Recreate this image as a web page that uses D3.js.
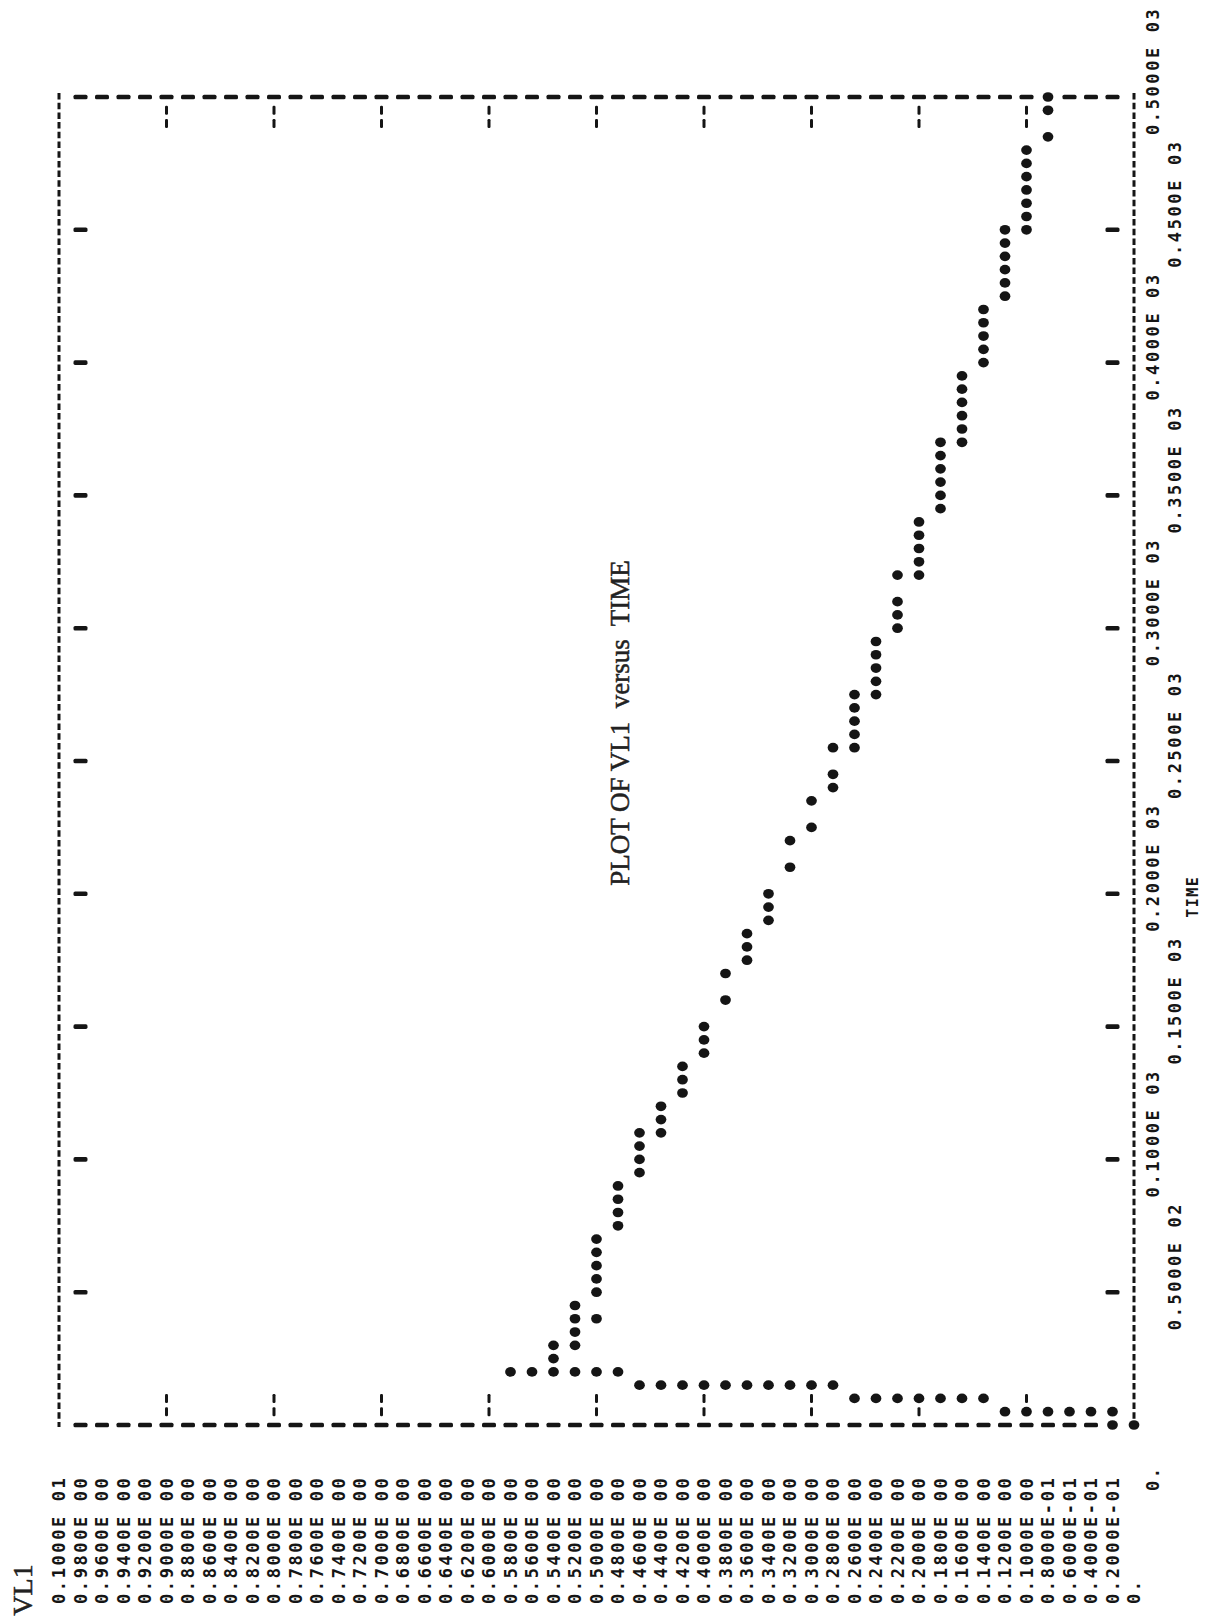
<!DOCTYPE html>
<html><head><meta charset="utf-8">
<script src="https://cdn.jsdelivr.net/npm/d3@7/dist/d3.min.js"></script>
<style>html,body{margin:0;padding:0;background:#fff;}svg{display:block}</style>
</head><body>
<svg id="chart" width="1229" height="1617"></svg>
<script>
// ---------- data ----------
const titleText = "PLOT OF VL1  versus  TIME";
const vl1AxisName = "VL1";
const timeAxisName = "TIME";

const vl1TickValues = [1.00,0.98,0.96,0.94,0.92,0.90,0.88,0.86,0.84,0.82,0.80,0.78,0.76,0.74,0.72,0.70,0.68,0.66,0.64,0.62,0.60,0.58,0.56,0.54,0.52,0.50,0.48,0.46,0.44,0.42,0.40,0.38,0.36,0.34,0.32,0.30,0.28,0.26,0.24,0.22,0.20,0.18,0.16,0.14,0.12,0.10,0.08,0.06,0.04,0.02,0];
const vl1TickLabels = ["0.1000E 01","0.9800E 00","0.9600E 00","0.9400E 00","0.9200E 00","0.9000E 00","0.8800E 00","0.8600E 00","0.8400E 00","0.8200E 00","0.8000E 00","0.7800E 00","0.7600E 00","0.7400E 00","0.7200E 00","0.7000E 00","0.6800E 00","0.6600E 00","0.6400E 00","0.6200E 00","0.6000E 00","0.5800E 00","0.5600E 00","0.5400E 00","0.5200E 00","0.5000E 00","0.4800E 00","0.4600E 00","0.4400E 00","0.4200E 00","0.4000E 00","0.3800E 00","0.3600E 00","0.3400E 00","0.3200E 00","0.3000E 00","0.2800E 00","0.2600E 00","0.2400E 00","0.2200E 00","0.2000E 00","0.1800E 00","0.1600E 00","0.1400E 00","0.1200E 00","0.1000E 00","0.8000E-01","0.6000E-01","0.4000E-01","0.2000E-01","0."];
const vl1GridValues = [0.9,0.8,0.7,0.6,0.5,0.4,0.3,0.2,0.1];

const timeTickValues = [0,50,100,150,200,250,300,350,400,450,500];
const timeTickLabels = ["0.","0.5000E 02","0.1000E 03","0.1500E 03","0.2000E 03","0.2500E 03","0.3000E 03","0.3500E 03","0.4000E 03","0.4500E 03","0.5000E 03"];
const timeStep = 5; // one printer column

const timeValues = [
  0,0,
  5,5,5,5,5,5,
  10,10,10,10,10,10,10,
  15,15,15,15,15,15,15,15,15,15,
  20,20,20,20,20,20,
  25,
  30,30,
  35,
  40,40,
  45,
  50,55,60,65,70,
  75,80,85,90,
  95,100,105,110,
  110,115,120,
  125,130,135,
  140,145,150,
  160,170,
  175,180,185,
  190,195,200,
  210,220,
  225,235,
  240,245,255,
  255,260,265,270,275,
  275,280,285,290,295,
  300,305,310,320,
  320,325,330,335,340,
  345,350,355,360,365,370,
  370,375,380,385,390,395,
  400,405,410,415,420,
  425,430,435,440,445,450,
  450,455,460,465,470,475,480,
  485,495,500
];
const vl1Values = [
  0.02,0.00,
  0.02,0.04,0.06,0.08,0.10,0.12,
  0.14,0.16,0.18,0.20,0.22,0.24,0.26,
  0.28,0.30,0.32,0.34,0.36,0.38,0.40,0.42,0.44,0.46,
  0.48,0.50,0.52,0.54,0.56,0.58,
  0.54,
  0.54,0.52,
  0.52,
  0.52,0.50,
  0.52,
  0.50,0.50,0.50,0.50,0.50,
  0.48,0.48,0.48,0.48,
  0.46,0.46,0.46,0.46,
  0.44,0.44,0.44,
  0.42,0.42,0.42,
  0.40,0.40,0.40,
  0.38,0.38,
  0.36,0.36,0.36,
  0.34,0.34,0.34,
  0.32,0.32,
  0.30,0.30,
  0.28,0.28,0.28,
  0.26,0.26,0.26,0.26,0.26,
  0.24,0.24,0.24,0.24,0.24,
  0.22,0.22,0.22,0.22,
  0.20,0.20,0.20,0.20,0.20,
  0.18,0.18,0.18,0.18,0.18,0.18,
  0.16,0.16,0.16,0.16,0.16,0.16,
  0.14,0.14,0.14,0.14,0.14,
  0.12,0.12,0.12,0.12,0.12,0.12,
  0.10,0.10,0.10,0.10,0.10,0.10,0.10,
  0.08,0.08,0.08
];

// ---------- drawing ----------
const ink = "#151515";
const svg = d3.select("#chart");
svg.append("rect").attr("width",1229).attr("height",1617).attr("fill","#fff");

// page is a line-printer listing turned 90 degrees: VL1 runs across, TIME runs up
const x = d3.scaleLinear().domain([0,1]).range([1134,59]);
const y = d3.scaleLinear().domain([0,500]).range([1425,97]);

const points = timeValues.map((t,i)=>({t, v: vl1Values[i]}));
const key = (t,v)=>t+"|"+v.toFixed(2);
const occupied = new Set(points.map(p=>key(p.t,p.v)));

const g = svg.append("g");

// side borders (VL1 = 1 and VL1 = 0 rows printed with dashes)
[1,0].forEach(v=>{
  g.append("line")
    .attr("x1",x(v)).attr("x2",x(v))
    .attr("y1",y(500)-4).attr("y2",y(0)+2)
    .attr("stroke",ink).attr("stroke-width",3)
    .attr("stroke-dasharray","6.5,3.2");
});

// end borders: a column of "I" characters at TIME = 0 and TIME = 500
const innerRows = vl1TickValues.filter(v=>v>0 && v<1);
[0,500].forEach(t=>{
  g.selectAll(null).data(innerRows.filter(v=>!occupied.has(key(t,v))))
    .join("rect")
    .attr("x",v=>x(v)-7).attr("y",y(t)-2.3)
    .attr("width",14).attr("height",4.6).attr("rx",1.6)
    .attr("fill",ink);
});

// TIME tick markers ("I" next to both side borders)
const innerTimeTicks = timeTickValues.filter(t=>t>0 && t<500);
[0.98,0.02].forEach(v=>{
  g.selectAll(null).data(innerTimeTicks)
    .join("rect")
    .attr("x",x(v)-7).attr("y",t=>y(t)-2.3)
    .attr("width",14).attr("height",4.6).attr("rx",1.6)
    .attr("fill",ink);
});

// VL1 grid stubs ("--" just inside both end borders)
const stubTimes = [timeStep, 2*timeStep, 500-2*timeStep, 500-timeStep];
vl1GridValues.forEach(v=>{
  g.selectAll(null).data(stubTimes.filter(t=>!occupied.has(key(t,v))))
    .join("rect")
    .attr("x",x(v)-1.5).attr("y",t=>y(t)-4.5)
    .attr("width",3).attr("height",9).attr("rx",1.2)
    .attr("fill",ink);
});

// data points ("*")
const star = d3.symbol().type(d3.symbolCircle).size(82);
g.selectAll(null).data(points).join("path")
  .attr("d",star)
  .attr("transform",p=>`translate(${x(p.v)},${y(p.t)}) scale(1.05,0.95)`)
  .attr("fill",ink);

// VL1 labels (printed at the start of each row)
const labelFont = "'DejaVu Sans Mono', 'Liberation Mono', monospace";
g.selectAll(null).data(vl1TickValues).join("text")
  .attr("transform",(v)=>`translate(${x(v)},1604) rotate(-90)`)
  .attr("dy","0.36em")
  .attr("font-family",labelFont).attr("font-weight","bold")
  .attr("font-size",17).attr("letter-spacing",2.6)
  .attr("fill",ink)
  .text((v,i)=>vl1TickLabels[i]);

// TIME labels (two staggered lines)
g.selectAll(null).data(timeTickValues).join("text")
  .attr("transform",(t,i)=>`translate(${i%2===0?1153:1175},${y(t)+(timeTickLabels[i].length<4?66:38)}) rotate(-90)`)
  .attr("dy","0.36em")
  .attr("font-family",labelFont).attr("font-weight","bold")
  .attr("font-size",17).attr("letter-spacing",2.6)
  .attr("fill",ink)
  .text((t,i)=>timeTickLabels[i]);

// TIME axis name
g.append("text")
  .attr("transform",`translate(1193,${y(200)+3}) rotate(-90)`)
  .attr("text-anchor","middle").attr("dy","0.36em")
  .attr("font-family",labelFont).attr("font-weight","bold")
  .attr("font-size",15).attr("letter-spacing",1.5)
  .attr("fill",ink)
  .text(timeAxisName);

// VL1 axis name
g.append("text")
  .attr("transform","translate(22,1590) rotate(-90)")
  .attr("text-anchor","middle").attr("dy","0.36em")
  .attr("font-family","'Liberation Serif', 'DejaVu Serif', serif")
  .attr("font-size",28)
  .attr("fill","#222").attr("stroke","#222").attr("stroke-width",0.5)
  .text(vl1AxisName);

// Title
g.append("text")
  .attr("transform","translate(619,723) rotate(-90)")
  .attr("text-anchor","middle").attr("dy","0.36em")
  .attr("font-family","'Liberation Serif', 'DejaVu Serif', serif")
  .attr("font-size",27)
  .attr("xml:space","preserve").style("white-space","pre")
  .attr("fill","#222").attr("stroke","#222").attr("stroke-width",0.5)
  .text(titleText);
</script>
</body></html>
